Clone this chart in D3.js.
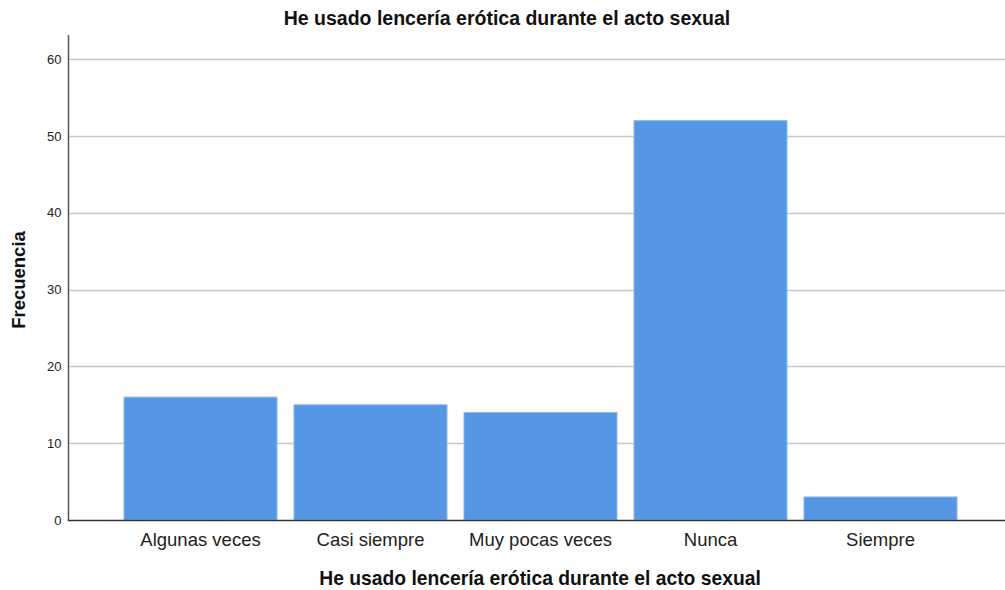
<!DOCTYPE html>
<html><head><meta charset="utf-8">
<script src="https://cdn.jsdelivr.net/npm/d3@7"></script>
<style>body{margin:0;background:#fff}svg{display:block;font-family:Arial,"Liberation Sans",sans-serif}</style>
</head><body><svg id="c" width="1005" height="590"></svg>
<script>
const categories = ["Algunas veces","Casi siempre","Muy pocas veces","Nunca","Siempre"];
const values = [16,15,14,52,3];
const yTicks = [0,10,20,30,40,50,60];
const title = "He usado lencería erótica durante el acto sexual";
const xTitle = "He usado lencería erótica durante el acto sexual";
const yTitle = "Frecuencia";

const svg = d3.select("#c");
const x = d3.scaleBand().domain(categories).range([115.5,965.5]).paddingInner(0.1).paddingOuter(0.05);
const y = d3.scaleLinear().domain([0,63.15]).range([520,35]);
const left = 68.5, right = 1005;

svg.append("g").selectAll("line").data(yTicks.filter(d=>d>0)).join("line")
  .attr("x1",left).attr("x2",right).attr("y1",d=>Math.round(y(d))+0.5).attr("y2",d=>Math.round(y(d))+0.5)
  .attr("stroke","#c8c8c8").attr("stroke-width",1.5);

svg.append("g").selectAll("rect").data(values).join("rect")
  .attr("x",(d,i)=>x(categories[i])).attr("width",x.bandwidth())
  .attr("y",d=>y(d)).attr("height",d=>y(0)-y(d))
  .attr("fill","#5596e5").attr("stroke","#8cb8ee").attr("stroke-width",1);

const ya = svg.append("g").attr("transform",`translate(${left},0)`)
  .call(d3.axisLeft(y).tickValues(yTicks).tickSize(0).tickPadding(7));
ya.select(".domain").remove();
ya.selectAll("text").attr("font-size",13).attr("fill","#222").attr("font-family","Arial,'Liberation Sans',sans-serif");
svg.append("line").attr("x1",left).attr("x2",left).attr("y1",35).attr("y2",520).attr("stroke","#555").attr("stroke-width",1.5);

const xa = svg.append("g").attr("transform","translate(0,520)")
  .call(d3.axisBottom(x).tickSize(0).tickPadding(13));
xa.select(".domain").remove();
xa.selectAll("text").attr("font-size",18.5).attr("fill","#222").attr("font-family","Arial,'Liberation Sans',sans-serif");
svg.append("line").attr("x1",left-0.75).attr("x2",right).attr("y1",520.5).attr("y2",520.5).attr("stroke","#333").attr("stroke-width",1.5);

svg.append("text").attr("x",507).attr("y",25).attr("text-anchor","middle")
  .attr("font-size",19.5).attr("font-weight","bold").attr("fill","#111").text(title);
svg.append("text").attr("x",540).attr("y",585).attr("text-anchor","middle")
  .attr("font-size",19.3).attr("font-weight","bold").attr("fill","#111").text(xTitle);
svg.append("text").attr("transform","translate(25,280) rotate(-90)").attr("text-anchor","middle")
  .attr("font-size",18.5).attr("font-weight","bold").attr("fill","#111").text(yTitle);
</script></body></html>
